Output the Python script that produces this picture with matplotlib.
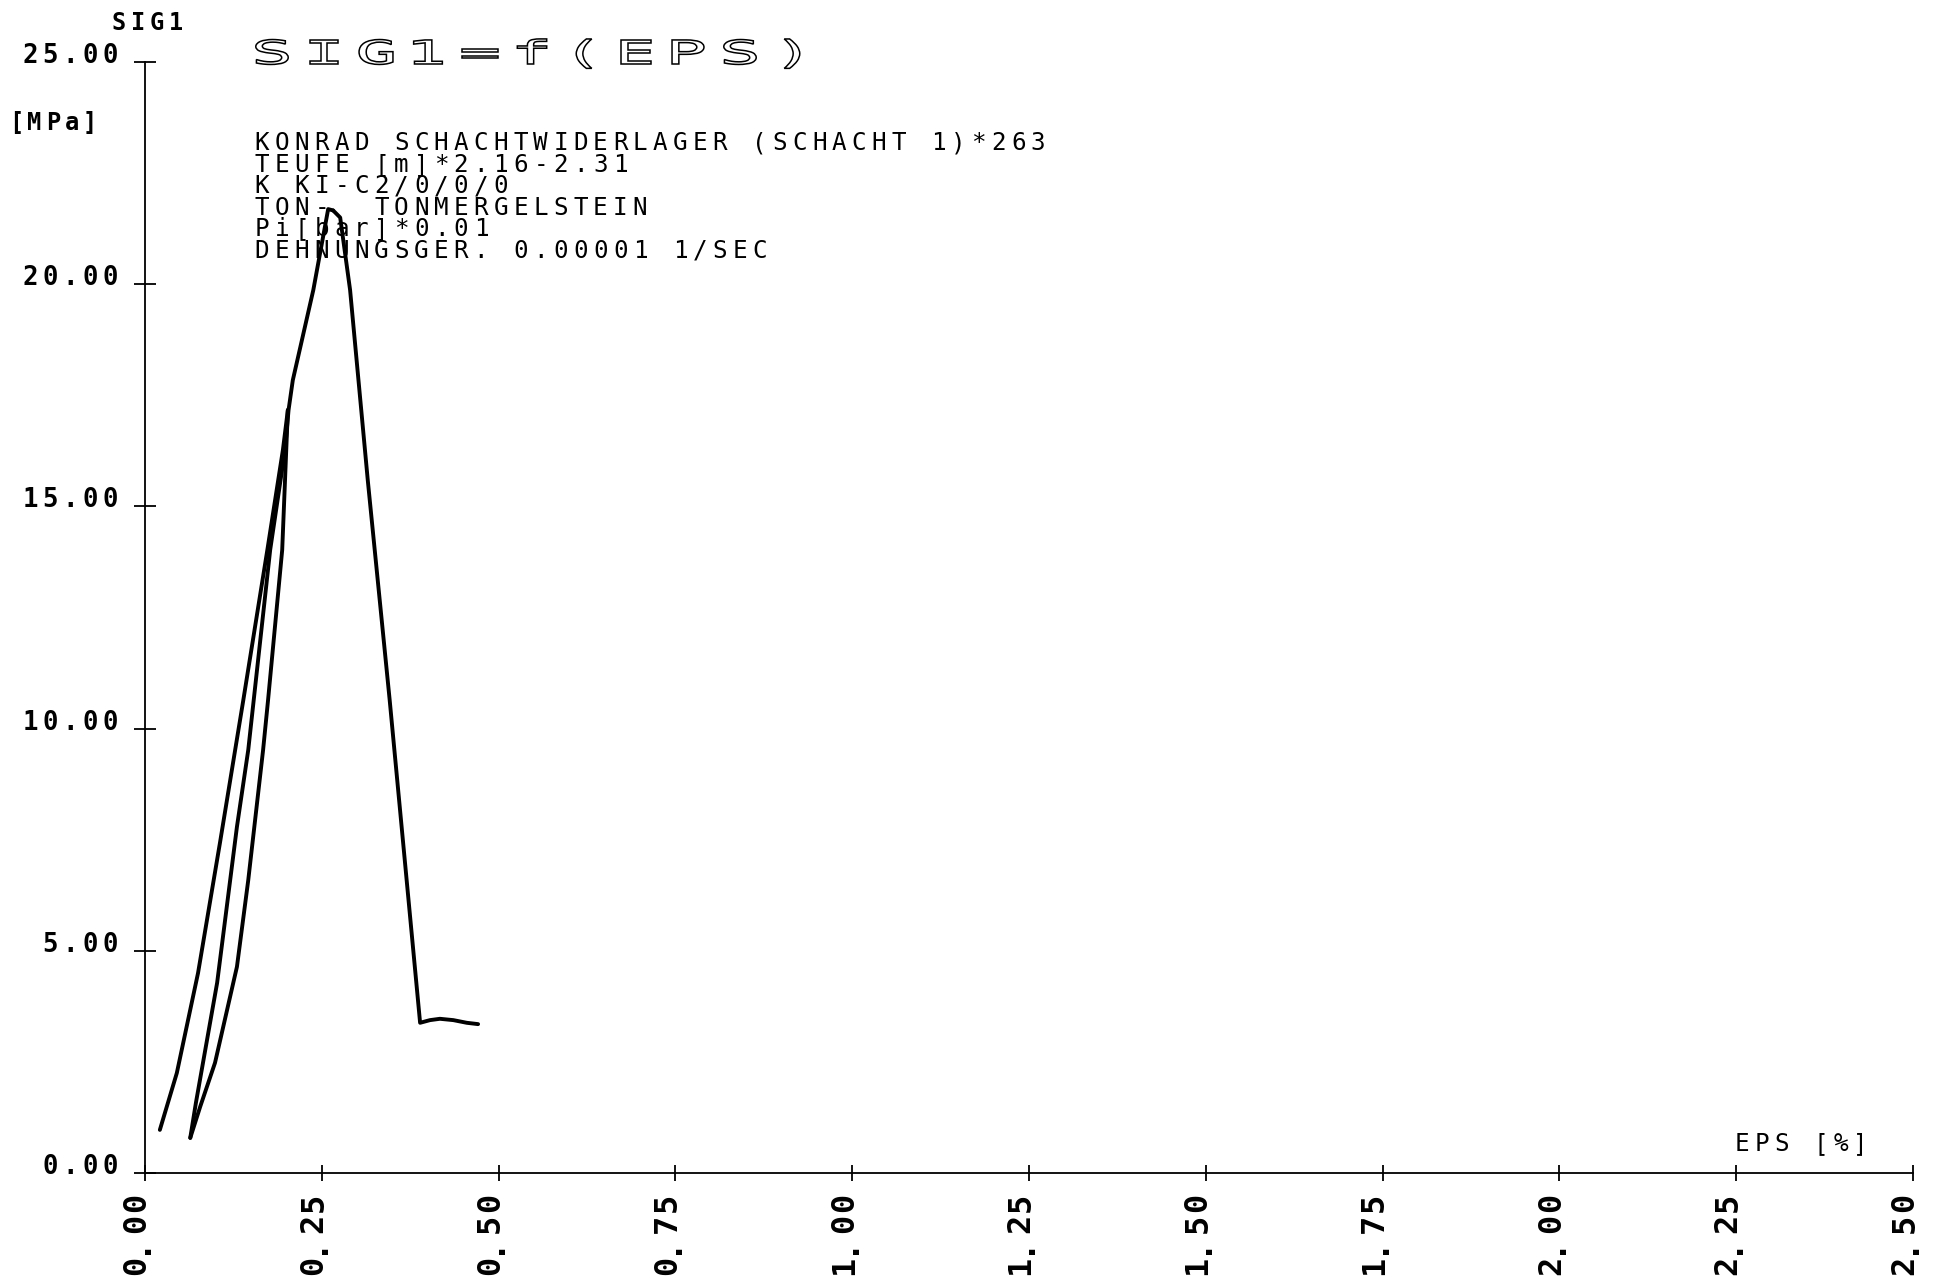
import numpy as np
import matplotlib
matplotlib.use("Agg")
import matplotlib.pyplot as plt
from matplotlib.textpath import TextPath
from matplotlib.patches import PathPatch
from matplotlib.font_manager import FontProperties
from matplotlib.transforms import Affine2D, IdentityTransform

W, H = 1938, 1282

# SIG1 [MPa] against EPS [%], triaxial test with one unload/reload loop
eps_load = [0.021, 0.045, 0.075, 0.106, 0.139, 0.173, 0.195, 0.202]
sig_load = [0.97, 2.25, 4.50, 7.43, 10.64, 14.02, 16.27, 17.17]

eps_unload = [0.202, 0.194, 0.174, 0.167, 0.146, 0.130, 0.099, 0.078, 0.064]
sig_unload = [17.17, 14.02, 10.64, 9.52, 6.59, 4.64, 2.48, 1.49, 0.79]

eps_reload = [0.064, 0.072, 0.102, 0.130, 0.146, 0.177, 0.198, 0.203,
              0.209, 0.238, 0.259, 0.266]
sig_reload = [0.79, 1.58, 4.28, 7.79, 9.52, 14.02, 16.27, 17.17,
              17.84, 19.87, 21.69, 21.66]

eps_post = [0.266, 0.276, 0.290, 0.315, 0.346, 0.389, 0.403, 0.417, 0.436,
            0.455, 0.471]
sig_post = [21.66, 21.50, 19.87, 15.59, 10.64, 3.38, 3.44, 3.47, 3.44,
            3.38, 3.35]

xticks = [0.0, 0.25, 0.5, 0.75, 1.0, 1.25, 1.5, 1.75, 2.0, 2.25, 2.5]
yticks = [0, 5, 10, 15, 20, 25]

title = "SIG1=f(EPS)"
info_lines = [
    "KONRAD SCHACHTWIDERLAGER (SCHACHT 1)*263",
    "TEUFE [m]*2.16-2.31",
    "K KI-C2/0/0/0",
    "TON-  TONMERGELSTEIN",
    "Pi[bar]*0.01",
    "DEHNUNGSGER. 0.00001 1/SEC",
]

MONO = "DejaVu Sans Mono"

fig = plt.figure(figsize=(W / 100, H / 100), dpi=100)
fig.patch.set_facecolor("white")
ax = fig.add_axes([145 / W, 1 - 1173 / H, (1913 - 145) / W, (1173 - 62) / H])

for e, s in [(eps_load, sig_load), (eps_unload, sig_unload),
             (eps_reload, sig_reload), (eps_post, sig_post)]:
    ax.plot(e, s, color="black", lw=2.8, solid_joinstyle="round",
            solid_capstyle="round")

ax.set_xlim(0, 2.5)
ax.set_ylim(0, 25)
ax.set_xticks(xticks)
ax.set_yticks(yticks)
for side in ["top", "right"]:
    ax.spines[side].set_visible(False)
for side in ["left", "bottom"]:
    ax.spines[side].set_linewidth(1.3)
ax.tick_params(axis="x", direction="inout", length=11.5, width=1.3,
               labelbottom=False)
ax.tick_params(axis="y", direction="inout", length=16, width=1.3,
               labelleft=False)


def plot_chars(text, x, y, pitch, size, vertical=False, weight="normal"):
    """Write text one glyph per fixed cell, like a pen plotter.
    x, y: pixels from the top-left corner (first cell centre / baseline)."""
    for i, ch in enumerate(text):
        if ch == " ":
            continue
        if vertical:
            fig.text(x / W, 1 - (y - i * pitch) / H, ch, fontsize=size,
                     family=MONO, weight=weight, rotation=90,
                     ha="center", va="center")
        else:
            fig.text((x + i * pitch) / W, 1 - y / H, ch, fontsize=size,
                     family=MONO, weight=weight, ha="center", va="baseline")


# tick labels
for v in yticks:
    px, py = ax.transData.transform((0, v))
    lab = f"{v:.2f}"
    plot_chars(lab, px - 35 - (len(lab) - 1) * 20, H - py + 1, 20, 18.5,
               weight="bold")
for v in xticks:
    px, py = ax.transData.transform((v, 0))
    plot_chars(f"{v:.2f}", px - 8, H - py + 92, 21, 23, vertical=True,
               weight="bold")

# axis names
plot_chars("SIG1", 119, 30, 19, 17, weight="bold")
plot_chars("[MPa]", 16, 130, 18.5, 17, weight="bold")
plot_chars("EPS [%]", 1742, 1151, 19.7, 17.5)

# test description
for k, line in enumerate(info_lines):
    plot_chars(line, 262, 150 + k * 21.6, 19.9, 17.5)

# wide outlined title
fp = FontProperties(family=MONO)
for i, ch in enumerate(title):
    tp = TextPath((0, 0), ch, size=33, prop=fp)
    bb = tp.get_extents()
    tr = (Affine2D().translate(-(bb.x0 + bb.x1) / 2, 0)
          .scale(2.1, 1).translate(272 + i * 52, H - 64))
    fig.add_artist(PathPatch(tr.transform_path(tp), facecolor="white",
                             edgecolor="black", lw=1.1,
                             transform=IdentityTransform()))

fig.savefig("out.png", dpi=100)
